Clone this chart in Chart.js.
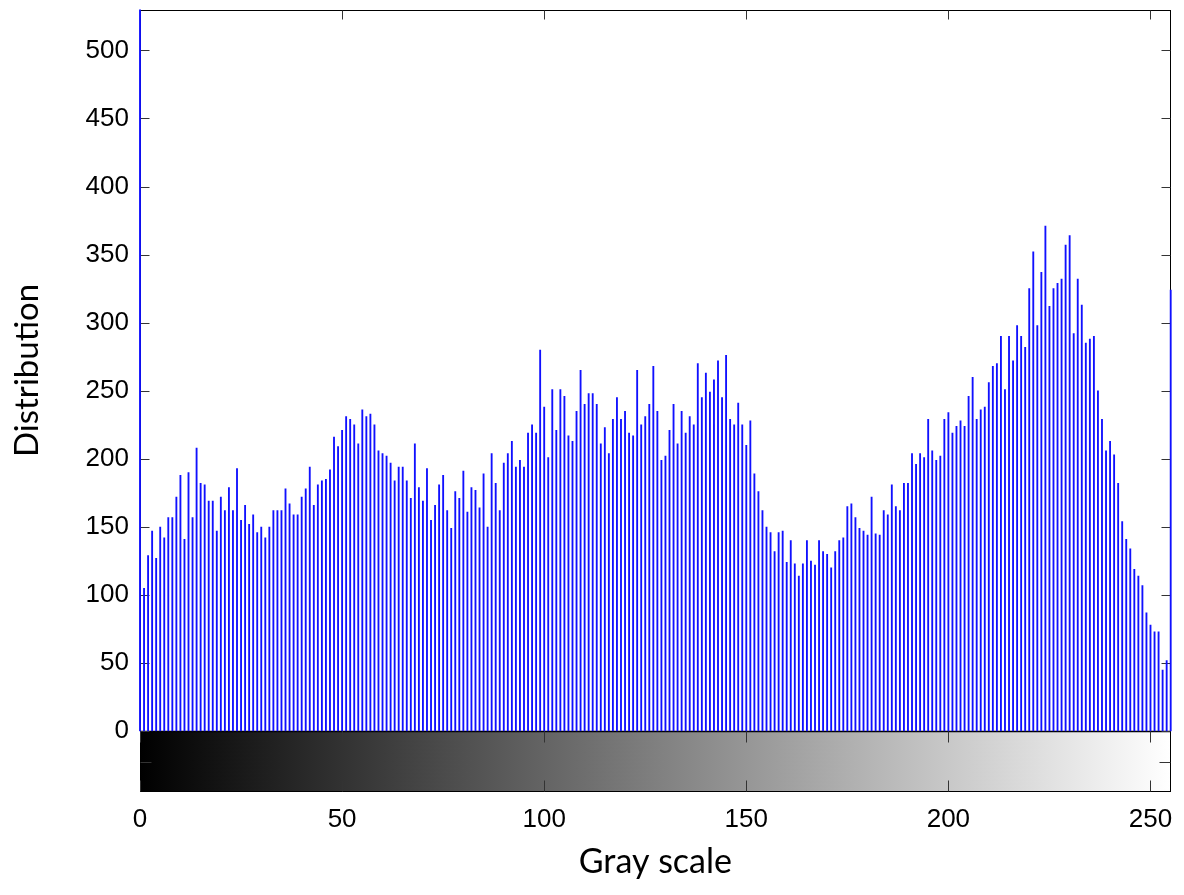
<!DOCTYPE html>
<html>
<head>
<meta charset="utf-8">
<script src="https://cdn.jsdelivr.net/npm/chart.js@4.4.1/dist/chart.umd.min.js"></script>
<style>
  html, body { margin: 0; padding: 0; background: #ffffff; }
  #wrap { width: 1184px; height: 895px; position: relative; }
</style>
</head>
<body>
<div id="wrap"><canvas id="c" width="1184" height="895"></canvas></div>
<script>
// Histogram counts for gray levels 0..255 (level 0 exceeds the axis and is clipped)
const counts = [
  600,
  105,129,147,127,150,142,157,157,172,188,141,190,157,208,182,181,169,169,147,172,162,179,162,193,155,166,152,159,146,150,142,150,
  162,162,162,178,167,159,159,172,178,194,166,181,184,185,192,216,209,221,231,229,225,211,236,231,233,225,206,204,202,197,184,194,
  194,184,171,211,179,169,193,155,166,181,188,162,149,176,171,191,161,179,177,164,189,150,204,182,162,197,204,213,194,199,194,219,
  225,219,280,238,201,251,221,251,246,217,213,235,265,240,248,248,240,211,223,204,229,245,229,235,219,217,265,225,231,240,268,235,199,
  202,221,240,211,235,219,231,225,270,245,263,249,258,272,245,276,229,225,241,225,210,228,189,176,162,150,146,132,146,147,124,
  140,123,114,123,140,125,122,140,132,130,120,132,140,142,165,167,157,149,147,144,172,145,144,162,159,181,165,162,182,182,204,196,204,
  201,229,206,199,202,229,234,219,224,228,224,246,260,229,236,238,256,268,270,290,251,290,272,298,290,282,325,352,298,337,371,312,
  325,329,332,357,364,292,332,313,285,288,290,250,229,206,213,203,182,154,141,134,119,114,107,87,78,73,73,45,52,324
];
const grayLevels = counts.map((_, i) => i);
const xTickValues = [0, 50, 100, 150, 200, 250];
const yTickValues = [0, 50, 100, 150, 200, 250, 300, 350, 400, 450, 500];
const xTitle = 'Gray scale';
const yTitle = 'Distribution';

const X_MIN = 0, X_MAX = 255, Y_MIN = 0, Y_MAX = 530;
const CB_HEIGHT = 60.7;   // colorbar strip height (px)
const TICK_LEN = 9;

const framePlugin = {
  id: 'frame',
  beforeDatasetsDraw(chart) {
    const { ctx, chartArea: a, scales: { x, y } } = chart;
    const cbTop = a.bottom, cbBot = a.bottom + CB_HEIGHT;
    ctx.save();
    // gray-level colorbar
    const g = ctx.createLinearGradient(a.left, 0, a.right, 0);
    g.addColorStop(0, '#000000');
    g.addColorStop(1, '#ffffff');
    ctx.fillStyle = g;
    ctx.fillRect(a.left, cbTop, a.right - a.left, cbBot - cbTop);

    ctx.strokeStyle = '#000000';
    ctx.lineWidth = 1;
    const L = Math.round(a.left) + 0.5, R = Math.round(a.right) - 0.5;
    const T = Math.round(a.top) + 0.5, B = Math.round(a.bottom) + 0.5;
    const CB = Math.round(cbBot) - 0.5;
    ctx.strokeRect(L, T, R - L, B - T);
    ctx.strokeRect(L, B, R - L, CB - B);
    ctx.lineWidth = 1.5;
    ctx.beginPath(); ctx.moveTo(L, B); ctx.lineTo(R, B); ctx.stroke();
    ctx.lineWidth = 1;

    // ticks
    ctx.strokeStyle = '#333333';
    ctx.beginPath();
    yTickValues.forEach(v => {
      const py = Math.round(y.getPixelForValue(v)) + 0.5;
      ctx.moveTo(L, py); ctx.lineTo(L + TICK_LEN, py);
      ctx.moveTo(R, py); ctx.lineTo(R - TICK_LEN, py);
    });
    xTickValues.forEach(v => {
      const px = Math.round(x.getPixelForValue(v)) + 0.5;
      ctx.moveTo(px, T); ctx.lineTo(px, T + TICK_LEN);
      ctx.moveTo(px, B); ctx.lineTo(px, B - TICK_LEN);
      ctx.moveTo(px, B); ctx.lineTo(px, B + TICK_LEN + 2);
      ctx.moveTo(px, CB); ctx.lineTo(px, CB - TICK_LEN - 2);
    });
    const my = Math.round((B + CB) / 2) + 0.5;
    ctx.moveTo(L, my); ctx.lineTo(L + TICK_LEN + 2, my);
    ctx.moveTo(R, my); ctx.lineTo(R - TICK_LEN - 2, my);
    ctx.stroke();
    ctx.restore();
  }
};

new Chart(document.getElementById('c'), {
  type: 'bar',
  data: {
    datasets: [{
      data: grayLevels.map((g, i) => ({ x: g, y: counts[i] })),
      backgroundColor: '#1010ff',
      borderWidth: 0,
      barThickness: 1.2,
      clip: { left: 2, right: 2, top: 0, bottom: 0 }
    }]
  },
  plugins: [framePlugin],
  options: {
    responsive: false,
    animation: false,
    devicePixelRatio: 1,
    layout: { padding: { left: 0, right: 13.3, top: 9.5, bottom: 0 } },
    plugins: { legend: { display: false }, tooltip: { enabled: false } },
    scales: {
      x: {
        type: 'linear',
        min: X_MIN, max: X_MAX,
        offset: false,
        grid: { display: false, drawTicks: false },
        border: { display: false },
        afterBuildTicks(s) { s.ticks = xTickValues.map(v => ({ value: v })); },
        afterFit(s) {
          s.height = 895 - 731.3;
          s.paddingLeft = 0; s.paddingRight = 0;
        },
        ticks: {
          color: '#000000',
          padding: 73,
          maxRotation: 0,
          autoSkip: false,
          font: { family: 'Liberation Sans', size: 26 },
          callback: v => String(v)
        },
        title: {
          display: true,
          text: xTitle,
          color: '#000000',
          font: { family: 'Lato', size: 34 },
          padding: { top: 0, bottom: 13 }
        }
      },
      y: {
        type: 'linear',
        min: Y_MIN, max: Y_MAX,
        grid: { display: false, drawTicks: false },
        border: { display: false },
        afterBuildTicks(s) { s.ticks = yTickValues.map(v => ({ value: v })); },
        afterFit(s) {
          s.width = 140;
          s.paddingTop = 0; s.paddingBottom = 0;
        },
        ticks: {
          color: '#000000',
          padding: 11,
          autoSkip: false,
          font: { family: 'Liberation Sans', size: 26 },
          callback: v => String(v)
        },
        title: {
          display: true,
          text: yTitle,
          color: '#000000',
          font: { family: 'Lato', size: 33 },
          padding: { top: 8, bottom: 0 }
        }
      }
    }
  }
});
</script>
</body>
</html>
